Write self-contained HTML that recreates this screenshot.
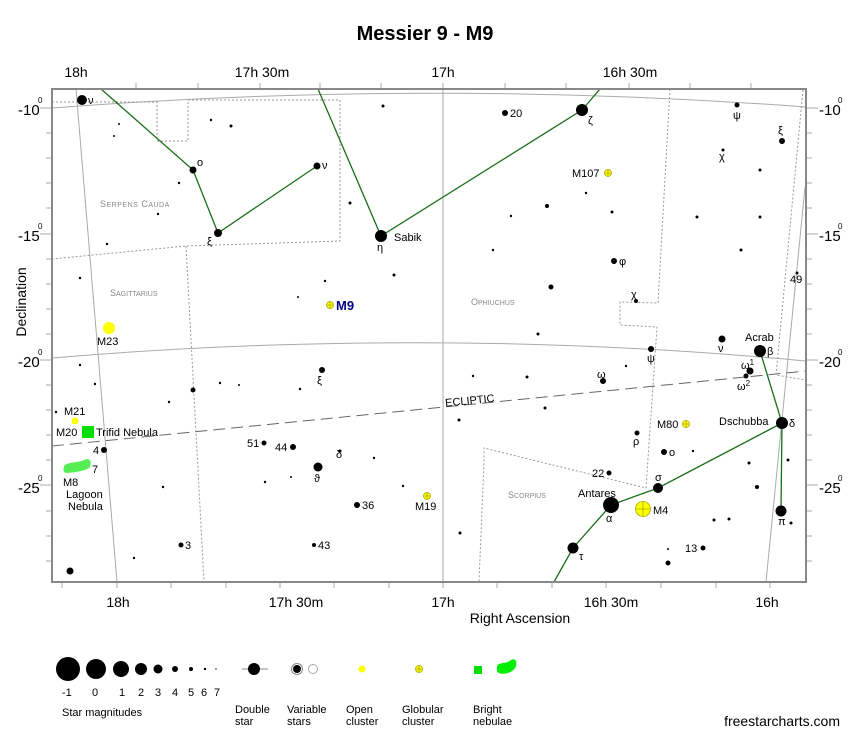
<!DOCTYPE html>
<html><head><meta charset="utf-8"><style>
body{margin:0;background:#fff;}
svg{display:block;font-family:"Liberation Sans",sans-serif;}
</style></head><body>
<svg width="850" height="736" viewBox="0 0 850 736" xmlns="http://www.w3.org/2000/svg">
<rect width="850" height="736" fill="#fff"/>
<text x="425" y="40" font-size="20" font-weight="bold" text-anchor="middle">Messier 9 - M9</text>
<g font-size="14" text-anchor="middle">
<text x="76" y="77">18h</text><text x="262" y="77">17h 30m</text><text x="443" y="77">17h</text><text x="630" y="77">16h 30m</text>
<text x="118" y="607">18h</text><text x="296" y="607">17h 30m</text><text x="443" y="607">17h</text><text x="611" y="607">16h 30m</text><text x="767" y="607">16h</text>
<text x="520" y="623">Right Ascension</text>
</g>
<text transform="translate(26,302) rotate(-90)" font-size="14" text-anchor="middle">Declination</text>
<g font-size="15">
<text x="18" y="115">-10</text><text x="18" y="241">-15</text><text x="18" y="367">-20</text><text x="18" y="493">-25</text>
<text x="819" y="115">-10</text><text x="819" y="241">-15</text><text x="819" y="367">-20</text><text x="819" y="493">-25</text>
</g>
<g font-size="8"><text x="38" y="103">0</text><text x="38" y="229">0</text><text x="38" y="355">0</text><text x="38" y="481">0</text>
<text x="838" y="103">0</text><text x="838" y="229">0</text><text x="838" y="355">0</text><text x="838" y="481">0</text></g>
<g stroke="#aaa" stroke-width="1">
<path d="M136,83v6M198,83v6M260,83v6M320,83v6M381,83v6M443,83v6M505,83v6M566,83v6M629,83v6M690,83v6M751,83v6"/>
<path d="M62,582v6M117,582v6M171,582v6M226,582v6M280,582v6M334,582v6M389,582v6M443,582v6M497,582v6M552,582v6M606,582v6M661,582v6M716,582v6M770,582v6"/>
<path d="M46,133h6M46,158h6M46,183h6M46,208h6M46,259h6M46,284h6M46,309h6M46,334h6M46,385h6M46,410h6M46,435h6M46,460h6M46,511h6M46,536h6M46,561h6"/>
<path d="M806,133h6M806,158h6M806,183h6M806,208h6M806,259h6M806,284h6M806,309h6M806,334h6M806,385h6M806,410h6M806,435h6M806,460h6M806,511h6M806,536h6M806,561h6"/>
<path d="M40,108h12M806,108h12M40,234h12M806,234h12M40,360h12M806,360h12M40,485h12M806,485h12"/>
</g>
<g fill="none" stroke="#aaa" stroke-width="1">
<path d="M52,108 Q429,79 806,107"/>
<path d="M52,358 Q430,326 806,361"/>
<path d="M76,89 L117,582"/>
<path d="M443,89 V582"/>
<path d="M805,187 L766,582"/>
</g>
<path d="M52,446 L806,371" stroke="#666" stroke-dasharray="12,6" fill="none"/>
<text x="445" y="404" font-size="11" transform="rotate(-5.7 472 400)">ECLIPTIC</text>
<g fill="none" stroke="#999" stroke-dasharray="2,2" stroke-width="1">
<path d="M52,102 H157 V141 H188 V100 H340 V241 L186,246 L52,259"/>
<path d="M186,246 L204,582"/>
<path d="M670,89 L658,303 L620,302 V325 L657,327 L646,488 L484,448 V462 L479,582"/>
<path d="M803,90 L776,375 L806,380"/>
</g>
<g fill="none" stroke="#1a6e1a" stroke-width="1.3">
<path d="M101,89 L193,170 L218,233 L317,166"/>
<path d="M318,89 L381,236 L582,110 L600,89"/>
<path d="M760,351 L782,423 L781,511"/>
<path d="M782,423 L658,488 L611,505 L573,548 L554,582"/>
</g>
<text x="100" y="207" font-size="9" fill="#888" letter-spacing="0.5">S<tspan font-size="7">ERPENS</tspan> C<tspan font-size="7">AUDA</tspan></text>
<text x="110" y="296" font-size="9" fill="#888">S<tspan font-size="7">AGITTARIUS</tspan></text>
<text x="471" y="305" font-size="9" fill="#888">O<tspan font-size="7">PHIUCHUS</tspan></text>
<text x="508" y="498" font-size="9" fill="#888">S<tspan font-size="7">CORPIUS</tspan></text>
<g fill="#000">
<circle cx="82" cy="100" r="5"/><circle cx="193" cy="170" r="3.5"/><circle cx="317" cy="166" r="3.5"/><circle cx="218" cy="233" r="4"/>
<circle cx="381" cy="236" r="6"/><circle cx="582" cy="110" r="6"/><circle cx="505" cy="113" r="3"/>
<circle cx="614" cy="261" r="3"/><circle cx="636" cy="301" r="2"/><circle cx="651" cy="349" r="3"/><circle cx="722" cy="339" r="3.5"/>
<circle cx="760" cy="351" r="6"/><circle cx="750" cy="371" r="3.5"/><circle cx="746" cy="376" r="2.5"/><circle cx="603" cy="381" r="3"/>
<circle cx="782" cy="423" r="6"/><circle cx="637" cy="433" r="2.5"/><circle cx="664" cy="452" r="3"/><circle cx="609" cy="473" r="2.5"/>
<circle cx="658" cy="488" r="5"/><circle cx="611" cy="505" r="8"/><circle cx="781" cy="511" r="5.5"/><circle cx="573" cy="548" r="5.5"/>
<circle cx="703" cy="548" r="2.5"/><circle cx="668" cy="563" r="2.5"/><circle cx="737" cy="105" r="2.5"/><circle cx="782" cy="141" r="3"/><circle cx="723" cy="150" r="1.5"/>
<circle cx="322" cy="370" r="3"/><circle cx="318" cy="467" r="4.5"/><circle cx="264" cy="443" r="2.5"/><circle cx="293" cy="447" r="3"/><circle cx="340" cy="451" r="1.5"/>
<circle cx="357" cy="505" r="3"/><circle cx="314" cy="545" r="2"/><circle cx="181" cy="545" r="2.5"/><circle cx="104" cy="450" r="3"/><circle cx="88" cy="464" r="2"/><circle cx="82" cy="467" r="1.5"/>
<circle cx="70" cy="571" r="3.5"/><circle cx="193" cy="390" r="2.5"/><circle cx="551" cy="287" r="2.5"/><circle cx="797" cy="273" r="1.5"/>
<circle cx="231" cy="126" r="1.5"/><circle cx="211" cy="120" r="1.2"/><circle cx="383" cy="106" r="1.5"/><circle cx="119" cy="124" r="1"/><circle cx="114" cy="136" r="1"/>
<circle cx="158" cy="214" r="1.2"/><circle cx="179" cy="183" r="1.2"/><circle cx="350" cy="203" r="1.5"/><circle cx="107" cy="244" r="1.2"/><circle cx="80" cy="278" r="1.2"/>
<circle cx="394" cy="275" r="1.5"/><circle cx="325" cy="281" r="1.2"/><circle cx="298" cy="297" r="1"/><circle cx="80" cy="365" r="1.2"/><circle cx="95" cy="384" r="1.2"/>
<circle cx="56" cy="412" r="1.2"/><circle cx="169" cy="402" r="1.2"/><circle cx="220" cy="383" r="1.2"/><circle cx="239" cy="385" r="1"/><circle cx="300" cy="389" r="1.2"/>
<circle cx="134" cy="558" r="1.2"/><circle cx="163" cy="487" r="1.2"/><circle cx="265" cy="482" r="1.2"/><circle cx="291" cy="477" r="1"/><circle cx="374" cy="458" r="1.2"/>
<circle cx="403" cy="486" r="1.2"/><circle cx="473" cy="376" r="1.2"/><circle cx="459" cy="420" r="1.5"/><circle cx="460" cy="533" r="1.5"/><circle cx="547" cy="206" r="2"/>
<circle cx="612" cy="212" r="1.5"/><circle cx="511" cy="216" r="1.2"/><circle cx="493" cy="250" r="1.2"/><circle cx="586" cy="193" r="1.2"/><circle cx="626" cy="366" r="1.2"/>
<circle cx="697" cy="217" r="1.5"/><circle cx="760" cy="217" r="1.5"/><circle cx="760" cy="170" r="1.5"/><circle cx="741" cy="250" r="1.5"/><circle cx="668" cy="549" r="1"/>
<circle cx="714" cy="520" r="1.5"/><circle cx="757" cy="487" r="2"/><circle cx="729" cy="519" r="1.5"/><circle cx="791" cy="523" r="1.5"/><circle cx="788" cy="460" r="1.5"/>
<circle cx="749" cy="463" r="1.5"/><circle cx="545" cy="408" r="1.5"/><circle cx="538" cy="334" r="1.5"/><circle cx="527" cy="377" r="1.5"/><circle cx="693" cy="451" r="1.2"/>
</g>
<g>
<circle cx="109" cy="328" r="6" fill="#ff0"/>
<circle cx="75" cy="421" r="3.5" fill="#ff0"/>
<rect x="82" y="426" width="12" height="12" fill="#0d0"/>
<path d="M64,467 C64,462 78,463 84,460 C90,457 92,462 90,467 C86,471 76,472 68,473 C63,473 63,470 64,467Z" fill="#5e5"/>
<g stroke="#aa0" stroke-width="0.8">
<circle cx="330" cy="305" r="3.5" fill="#ff0"/><path d="M326.5,305h7M330,301.5v7"/>
<circle cx="427" cy="496" r="3.5" fill="#ff0"/><path d="M423.5,496h7M427,492.5v7"/>
<circle cx="608" cy="173" r="3.5" fill="#ff0"/><path d="M604.5,173h7M608,169.5v7"/>
<circle cx="686" cy="424" r="3.5" fill="#ff0"/><path d="M682.5,424h7M686,420.5v7"/>
<circle cx="643" cy="509" r="7.5" fill="#ff0"/><path d="M635.5,509h15M643,501.5v15"/>
</g>
</g>
<g font-size="11">
<text x="88" y="104">ν</text><text x="197" y="166">o</text><text x="322" y="169">ν</text><text x="207" y="245">ξ</text>
<text x="394" y="241">Sabik</text><text x="377" y="251">η</text><text x="510" y="117">20</text><text x="588" y="124">ζ</text>
<text x="572" y="177">M107</text><text x="619" y="265">φ</text><text x="631" y="298">χ</text><text x="647" y="362">ψ</text><text x="718" y="352">ν</text>
<text x="745" y="341">Acrab</text><text x="767" y="355">β</text><text x="741" y="369">ω<tspan font-size="8" dy="-4">1</tspan></text><text x="737" y="390">ω<tspan font-size="8" dy="-4">2</tspan></text>
<text x="597" y="378">ω</text><text x="719" y="425">Dschubba</text><text x="789" y="427">δ</text><text x="657" y="428">M80</text><text x="633" y="445">ρ</text><text x="669" y="456">o</text>
<text x="592" y="477">22</text><text x="655" y="481">σ</text><text x="578" y="497">Antares</text><text x="606" y="522">α</text><text x="653" y="514">M4</text>
<text x="778" y="525">π</text><text x="579" y="560">τ</text><text x="685" y="552">13</text><text x="733" y="119">ψ</text><text x="719" y="160">χ</text><text x="778" y="134">ξ</text>
<text x="790" y="283">49</text>
<text x="317" y="384">ξ</text><text x="314" y="482">ϑ</text><text x="336" y="458">δ</text><text x="247" y="447">51</text><text x="275" y="451">44</text>
<text x="362" y="509">36</text><text x="318" y="549">43</text><text x="185" y="549">3</text><text x="93" y="454">4</text><text x="92" y="473">7</text>
<text x="415" y="510">M19</text><text x="97" y="345">M23</text><text x="64" y="415">M21</text><text x="56" y="436">M20</text><text x="96" y="436">Trifid Nebula</text>
<text x="63" y="486">M8</text><text x="66" y="498">Lagoon</text><text x="68" y="510">Nebula</text>
</g>
<text x="336" y="310" font-size="13" font-weight="bold" fill="#00008b">M9</text>
<rect x="52" y="89" width="754" height="493" fill="none" stroke="#888" stroke-width="2"/>
<g fill="#000">
<circle cx="68" cy="669" r="12"/><circle cx="96" cy="669" r="10"/><circle cx="121" cy="669" r="8"/><circle cx="141" cy="669" r="6"/><circle cx="158" cy="669" r="4.5"/><circle cx="175" cy="669" r="3"/><circle cx="191" cy="669" r="2"/><circle cx="205" cy="669" r="1.2"/><circle cx="216" cy="669" r="0.7"/>
<path d="M242,669h26" stroke="#888"/><circle cx="254" cy="669" r="6"/>
<circle cx="297" cy="669" r="5.5" fill="#fff" stroke="#888"/><circle cx="297" cy="669" r="4"/><circle cx="313" cy="669" r="4.5" fill="#fff" stroke="#aaa"/>
</g>
<circle cx="362" cy="669" r="3.5" fill="#ff0"/>
<circle cx="419" cy="669" r="3.5" fill="#ff0" stroke="#aa0" stroke-width="0.8"/><path d="M415.5,669h7M419,665.5v7" stroke="#aa0" stroke-width="0.8"/>
<rect x="474" y="666" width="8" height="8" fill="#0d0"/>
<path d="M497,667 C497,662 507,664 511,660 C516,657 518,663 515,668 C512,673 503,675 499,673 C496,672 497,669 497,667Z" fill="#0e0"/>
<g font-size="11">
<text x="62" y="696">-1</text><text x="92" y="696">0</text><text x="119" y="696">1</text><text x="138" y="696">2</text><text x="155" y="696">3</text><text x="172" y="696">4</text><text x="188" y="696">5</text><text x="201" y="696">6</text><text x="214" y="696">7</text>
<text x="62" y="716">Star magnitudes</text>
<text x="235" y="713">Double</text><text x="235" y="725">star</text>
<text x="287" y="713">Variable</text><text x="287" y="725">stars</text>
<text x="346" y="713">Open</text><text x="346" y="725">cluster</text>
<text x="402" y="713">Globular</text><text x="402" y="725">cluster</text>
<text x="473" y="713">Bright</text><text x="473" y="725">nebulae</text>
</g>
<text x="840" y="726" font-size="14" text-anchor="end">freestarcharts.com</text>
</svg>
</body></html>
